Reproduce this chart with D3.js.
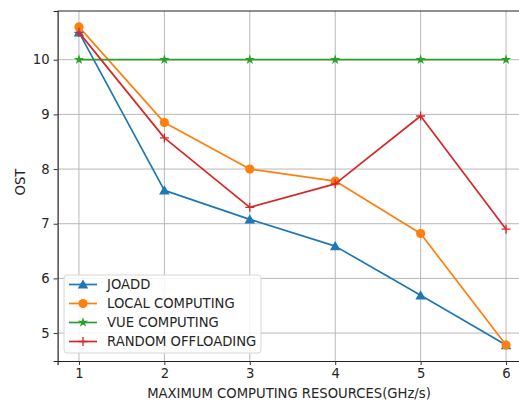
<!DOCTYPE html>
<html>
<head>
<meta charset="utf-8">
<script src="https://cdn.jsdelivr.net/npm/d3@7"></script>
<style>
  html, body { margin: 0; padding: 0; background: #fff; }
  svg { display: block; font-family: "DejaVu Sans", sans-serif; }
</style>
</head>
<body>
<svg id="chart" width="519" height="401"></svg>
<script>
// Resource levels (GHz/s) on the x axis
const resources = [1, 2, 3, 4, 5, 6];
const xTicks = [1, 2, 3, 4, 5, 6];
const yTicks = [5, 6, 7, 8, 9, 10];

// Cost of each scheme at every resource level
const joadd     = [10.50, 7.61, 7.08, 6.59, 5.69, 4.78];
const localComp = [10.60, 8.85, 8.00, 7.78, 6.82, 4.78];
const vueComp   = [10.00, 10.00, 10.00, 10.00, 10.00, 10.00];
const randomOff = [10.50, 8.57, 7.30, 7.73, 8.97, 6.90];

const seriesNames = ["JOADD", "LOCAL COMPUTING", "VUE COMPUTING", "RANDOM OFFLOADING"];
const seriesColors = ["#1f77b4", "#ff7f0e", "#2ca02c", "#d62728"];
const seriesMarkers = ["triangle", "circle", "star", "plus"];
const seriesValues = [joadd, localComp, vueComp, randomOff];

const svg = d3.select("#chart");
const plot = { left: 57.6, top: 11, bottom: 361, right: 527.4 };
const fontSize = "13.2px";

// 5% padding around the data, as in a default plot
function padded(lo, hi) { const m = (hi - lo) * 0.05; return [lo - m, hi + m]; }
const xExt = padded(d3.min(resources), d3.max(resources));
const allVals = seriesValues.flat();
const yExt = padded(d3.min(allVals), d3.max(allVals));

const x = d3.scaleLinear().domain(xExt).range([plot.left, plot.right]);
const y = d3.scaleLinear().domain(yExt).range([plot.bottom, plot.top]);

// grid
const grid = svg.append("g");
grid.selectAll("line.vx").data(xTicks).join("line")
  .attr("x1", d => x(d)).attr("x2", d => x(d))
  .attr("y1", plot.top).attr("y2", plot.bottom)
  .attr("stroke", "#b8b8b8").attr("stroke-width", 1);
grid.selectAll("line.hy").data(yTicks).join("line")
  .attr("x1", plot.left).attr("x2", plot.right)
  .attr("y1", d => y(d)).attr("y2", d => y(d))
  .attr("stroke", "#b8b8b8").attr("stroke-width", 1);

// axes
const xAxis = svg.append("g").attr("transform", `translate(0,${plot.bottom})`)
  .call(d3.axisBottom(x).tickValues(xTicks).tickFormat(d3.format("d")).tickSizeOuter(0).tickSize(4).tickPadding(4));
const yAxis = svg.append("g").attr("transform", `translate(${plot.left},0)`)
  .call(d3.axisLeft(y).tickValues(yTicks).tickFormat(d3.format("d")).tickSizeOuter(0).tickSize(4).tickPadding(4));
[xAxis, yAxis].forEach(a => {
  a.select(".domain").attr("stroke", "#222").attr("stroke-width", 1.2);
  a.selectAll(".tick line").attr("stroke", "#333");
  a.selectAll(".tick text").attr("fill", "#262626").style("font-size", fontSize)
    .style("font-family", "DejaVu Sans, sans-serif");
});
// top spine
svg.append("line").attr("x1", plot.left).attr("x2", plot.right)
  .attr("y1", plot.top).attr("y2", plot.top).attr("stroke", "#222").attr("stroke-width", 1.2);

// axis titles
svg.append("text").attr("x", 289).attr("y", 398)
  .attr("text-anchor", "middle").attr("fill", "#262626")
  .style("font-size", fontSize).text("MAXIMUM COMPUTING RESOURCES(GHz/s)");
svg.append("text").attr("transform", "translate(25,182) rotate(-90)")
  .attr("text-anchor", "middle").attr("fill", "#262626")
  .style("font-size", fontSize).text("OST");

// marker drawing
function drawMarker(g, type, color, cx, cy) {
  if (type === "triangle") {
    g.append("path").attr("d", d3.symbol(d3.symbolTriangle, 48)())
      .attr("transform", `translate(${cx},${cy + 1})`).attr("fill", color);
  } else if (type === "circle") {
    g.append("circle").attr("cx", cx).attr("cy", cy).attr("r", 4.6).attr("fill", color);
  } else if (type === "star") {
    g.append("path").attr("d", d3.symbol(d3.symbolStar, 32)())
      .attr("transform", `translate(${cx},${cy})`).attr("fill", color);
  } else if (type === "plus") {
    g.append("path").attr("d", `M${cx - 4.5},${cy}H${cx + 4.5}M${cx},${cy - 4.5}V${cy + 4.5}`)
      .attr("stroke", color).attr("stroke-width", 1.3).attr("fill", "none");
  }
}

const line = d3.line().x((d, i) => x(resources[i])).y(d => y(d));

seriesValues.forEach((vals, s) => {
  const g = svg.append("g");
  g.append("path").datum(vals).attr("d", line)
    .attr("fill", "none").attr("stroke", seriesColors[s]).attr("stroke-width", 1.7)
    .attr("stroke-linejoin", "round");
  vals.forEach((v, i) => drawMarker(g, seriesMarkers[s], seriesColors[s], x(resources[i]), y(v)));
});

// legend
const lg = svg.append("g");
lg.append("rect").attr("x", 64).attr("y", 275).attr("width", 197).attr("height", 78)
  .attr("rx", 3).attr("fill", "#fff").attr("fill-opacity", 0.85)
  .attr("stroke", "#d6d6d6").attr("stroke-width", 1);
seriesNames.forEach((name, s) => {
  const ry = 284.5 + s * 19;
  lg.append("line").attr("x1", 69).attr("x2", 97).attr("y1", ry).attr("y2", ry)
    .attr("stroke", seriesColors[s]).attr("stroke-width", 1.7);
  drawMarker(lg, seriesMarkers[s], seriesColors[s], 83, ry);
  lg.append("text").attr("x", 107).attr("y", ry + 4.8).attr("fill", "#262626")
    .style("font-size", fontSize).text(name);
});
</script>
</body>
</html>
